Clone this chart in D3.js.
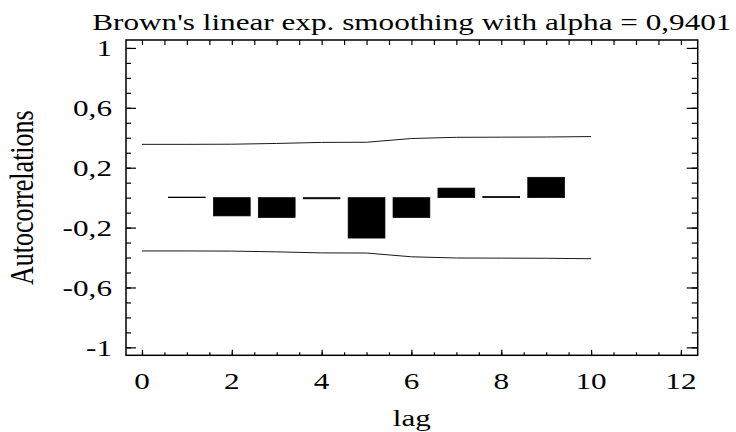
<!DOCTYPE html>
<html>
<head>
<meta charset="utf-8">
<script src="https://cdn.jsdelivr.net/npm/d3@7"></script>
<style>
  html, body { margin: 0; padding: 0; background: #fff; }
  svg { display: block; }
  text { font-family: "Liberation Serif", "Times New Roman", serif; fill: #000; }
</style>
</head>
<body>
<svg id="chart" width="736" height="432"></svg>
<script>
// Residual autocorrelations by lag
const lags = [1, 2, 3, 4, 5, 6, 7, 8, 9];
const acf = [0.004, -0.122, -0.133, -0.008, -0.270, -0.133, 0.064, 0.008, 0.136];

// 95% probability limits
const limitLags = [0, 1, 2, 3, 4, 5, 6, 7, 8, 9, 10];
const upperLimit = [0.356, 0.356, 0.357, 0.362, 0.369, 0.370, 0.395, 0.403, 0.404, 0.405, 0.408];
const lowerLimit = [-0.356, -0.356, -0.357, -0.362, -0.369, -0.370, -0.395, -0.403, -0.404, -0.405, -0.408];

// Axis ticks
const xTickValues = [0, 2, 4, 6, 8, 10, 12];
const yTickValues = [1, 0.6, 0.2, -0.2, -0.6, -1];
const yMinorValues = d3.range(-10, 11).map(i => i / 10);
const xMinorValues = d3.range(0, 25).map(i => i / 2);

const titleText = "Brown's linear exp. smoothing with alpha = 0,9401";
const xTitle = "lag";
const yTitle = "Autocorrelations";

const svg = d3.select("#chart");
const box = { left: 126, right: 697.7, top: 40, bottom: 355.3 };
const stretch = 1.3;

const x = d3.scaleLinear().domain([-0.356, 12.374]).range([box.left, box.right]);
const y = d3.scaleLinear().domain([-1.053, 1.053]).range([box.bottom, box.top]);

const fmt = d3.formatLocale({ decimal: ",", thousands: ".", grouping: [3], currency: ["", ""], minus: "-" }).format("~g");

// Text drawn in a slightly wide serif face
function wideText(px, py, str, anchor, size, rotate) {
  return svg.append("text")
    .attr("transform", `translate(${px},${py}) scale(${stretch},1)` + (rotate ? " rotate(-90)" : ""))
    .attr("text-anchor", anchor)
    .attr("font-size", size)
    .text(str);
}

// Bars
svg.append("g").selectAll("rect")
  .data(lags.map((l, i) => ({ lag: l, v: acf[i] })))
  .join("rect")
  .attr("x", d => x(d.lag - 0.41))
  .attr("width", d => x(d.lag + 0.41) - x(d.lag - 0.41))
  .attr("y", d => Math.min(y(d.v), y(0)))
  .attr("height", d => Math.abs(y(d.v) - y(0)))
  .attr("fill", "#000")
  .attr("stroke", "#000")
  .attr("stroke-width", 0.7);

// Limit lines
const line = d3.line().x(d => x(d[0])).y(d => y(d[1]));
[upperLimit, lowerLimit].forEach(arr => {
  svg.append("path")
    .datum(limitLags.map((l, i) => [l, arr[i]]))
    .attr("d", line)
    .attr("fill", "none")
    .attr("stroke", "#1a1a1a")
    .attr("stroke-width", 1);
});

// Ticks (all pointing into the plot)
function tickAxis(axis, transform) {
  const g = svg.append("g").attr("transform", transform).call(axis);
  g.select(".domain").remove();
  g.selectAll("text").remove();
  g.selectAll("line").attr("stroke", "#000").attr("stroke-width", 1.2);
}
tickAxis(d3.axisLeft(y).tickValues(yMinorValues).tickSize(-5), `translate(${box.left},0)`);
tickAxis(d3.axisLeft(y).tickValues(yTickValues).tickSize(-10), `translate(${box.left},0)`);
tickAxis(d3.axisRight(y).tickValues(yMinorValues).tickSize(-6), `translate(${box.right},0)`);
tickAxis(d3.axisRight(y).tickValues(yTickValues).tickSize(-11), `translate(${box.right},0)`);
tickAxis(d3.axisBottom(x).tickValues(xMinorValues).tickSize(-3), `translate(0,${box.bottom})`);
tickAxis(d3.axisBottom(x).tickValues(xTickValues).tickSize(-5.5), `translate(0,${box.bottom})`);
tickAxis(d3.axisTop(x).tickValues(xMinorValues).tickSize(-5), `translate(0,${box.top})`);

// Frame
svg.append("rect")
  .attr("x", box.left).attr("y", box.top)
  .attr("width", box.right - box.left).attr("height", box.bottom - box.top)
  .attr("fill", "none").attr("stroke", "#000").attr("stroke-width", 1.5);

// Tick labels
yTickValues.forEach(v => wideText(112, y(v) + 8.5, fmt(v), "end", 24));
xTickValues.forEach(v => wideText(x(v), 389.3, fmt(v), "middle", 24));

// Titles
const cx = (box.left + box.right) / 2;
wideText(cx, 30, titleText, "middle", 24);
wideText(cx, 426, xTitle, "middle", 24);
wideText(33, (box.top + box.bottom) / 2, yTitle, "middle", 26, true);
</script>
</body>
</html>
